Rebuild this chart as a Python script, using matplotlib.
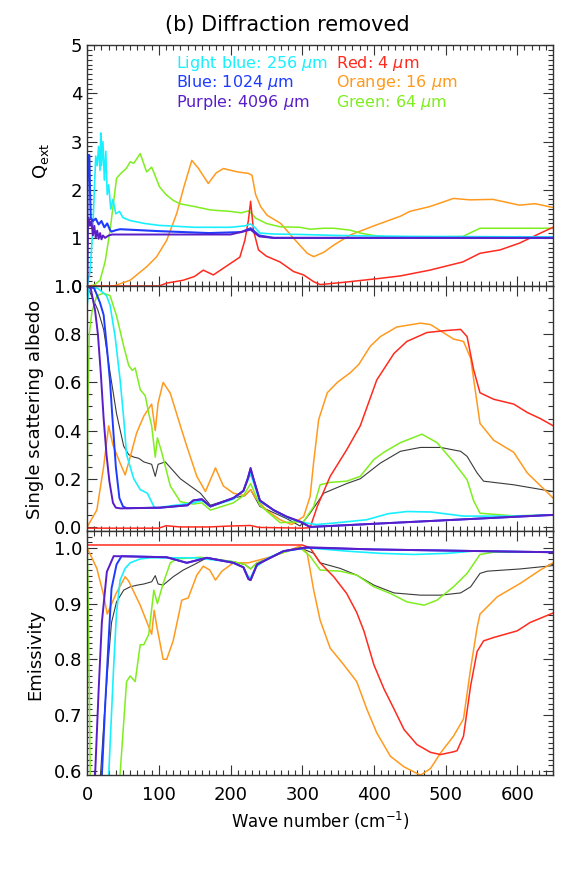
import numpy as np
import matplotlib.pyplot as plt
from matplotlib.ticker import MultipleLocator

# colours of the six grain sizes + the mean (black)
c_cyan = '#19f0ff'
c_blue = '#1e3cff'
c_purple = '#5a1ec8'
c_red = '#ff2a1e'
c_orange = '#ff9a1e'
c_green = '#7fee1e'
c_black = '#3a3a3a'

# ---- Q_ext panel ----
qext_red_x = [0, 100, 111, 134, 150, 162, 176, 195, 213, 220, 225, 228, 232, 239, 250, 269, 288, 302, 316, 325, 360, 409, 437, 478, 524, 548, 576, 603, 631, 650]
qext_red = [0, 0.0, 0.06, 0.12, 0.2, 0.33, 0.23, 0.42, 0.6, 0.95, 1.37, 1.76, 1.16, 0.75, 0.62, 0.5, 0.3, 0.23, 0.09, 0.03, 0.08, 0.16, 0.21, 0.33, 0.5, 0.68, 0.75, 0.89, 1.09, 1.22]

qext_orange_x = [0, 37, 60, 83, 97, 111, 125, 135, 146, 155, 169, 180, 190, 210, 225, 230, 235, 242, 251, 270, 288, 307, 316, 330, 344, 367, 400, 437, 450, 478, 511, 534, 566, 603, 625, 650]
qext_orange = [0, 0, 0.12, 0.4, 0.61, 0.95, 1.51, 2.06, 2.61, 2.45, 2.13, 2.35, 2.44, 2.37, 2.34, 2.3, 1.9, 1.65, 1.47, 1.3, 0.99, 0.68, 0.61, 0.7, 0.85, 1.06, 1.25, 1.45, 1.55, 1.65, 1.82, 1.79, 1.8, 1.68, 1.71, 1.63]

qext_green_x = [0, 10, 18, 25, 32, 41, 47, 55, 60, 65, 74, 83, 90, 101, 110, 120, 129, 150, 172, 200, 215, 225, 230, 235, 250, 269, 297, 311, 330, 344, 367, 381, 400, 428, 450, 480, 524, 548, 650]
qext_green = [0, 0.02, 0.12, 0.5, 1.16, 2.24, 2.34, 2.45, 2.58, 2.55, 2.75, 2.37, 2.47, 2.06, 1.9, 1.78, 1.71, 1.65, 1.58, 1.55, 1.52, 1.56, 1.5, 1.41, 1.3, 1.23, 1.22, 1.18, 1.2, 1.2, 1.16, 1.1, 1.05, 1.0, 1.02, 1.02, 1.03, 1.2, 1.2]

qext_cyan_x = [0, 4, 8, 10, 12, 14, 16, 18, 19, 20, 22, 24, 26, 28, 30, 33, 36, 40, 45, 50, 60, 80, 100, 150, 200, 220, 228, 235, 241, 260, 300, 350, 450, 650]
qext_cyan = [0, 0.3, 1.2, 2.0, 2.7, 2.5, 2.9, 2.4, 3.18, 2.5, 3.0, 2.2, 2.8, 1.9, 2.1, 1.6, 1.8, 1.5, 1.55, 1.42, 1.36, 1.3, 1.26, 1.22, 1.22, 1.25, 1.29, 1.2, 1.1, 1.08, 1.07, 1.05, 1.03, 1.02]

qext_blue_x = [0, 0.5, 1, 3, 4, 5, 8, 12, 16, 20, 24, 28, 32, 34, 40, 46, 100, 170, 215, 228, 240, 260, 650]
qext_blue = [0, 2.0, 2.72, 2.72, 2.0, 1.42, 1.35, 1.4, 1.28, 1.35, 1.22, 1.3, 1.16, 1.13, 1.16, 1.18, 1.14, 1.1, 1.12, 1.2, 1.05, 1.0, 1.0]

qext_purple_x = [0, 1, 2, 4, 6, 8, 10, 12, 14, 16, 18, 20, 22, 25, 30, 35, 100, 200, 228, 240, 260, 650]
qext_purple = [0, 1.2, 1.42, 1.25, 1.35, 1.05, 1.25, 1.0, 1.15, 0.98, 1.1, 0.97, 1.05, 1.0, 1.05, 1.07, 1.07, 1.07, 1.17, 1.03, 1.0, 1.0]

# ---- single scattering albedo panel ----
alb_purple_x = [0, 5, 11, 15, 19, 23, 27, 31, 36, 40, 47, 102, 140, 148, 160, 172, 190, 204, 218, 224, 228, 232, 241, 260, 278, 297, 311, 650]
alb_purple = [1.0, 0.99, 0.9, 0.8, 0.64, 0.45, 0.3, 0.19, 0.1, 0.08, 0.077, 0.08, 0.09, 0.11, 0.115, 0.085, 0.105, 0.12, 0.15, 0.2, 0.245, 0.2, 0.11, 0.07, 0.043, 0.022, 0.0, 0.05]

alb_blue_x = [0, 10, 18, 23, 28, 32, 36, 40, 45, 50, 55, 102, 140, 148, 160, 172, 190, 204, 218, 224, 228, 232, 241, 260, 278, 297, 311, 650]
alb_blue = [1.0, 0.99, 0.93, 0.88, 0.73, 0.6, 0.42, 0.25, 0.12, 0.085, 0.078, 0.08, 0.09, 0.11, 0.115, 0.085, 0.105, 0.12, 0.15, 0.2, 0.24, 0.2, 0.11, 0.07, 0.043, 0.022, 0.0, 0.05]

alb_cyan_x = [0, 3, 15, 27, 32, 39, 46, 51, 55, 65, 74, 84, 93, 96, 110, 148, 160, 172, 204, 218, 228, 241, 260, 278, 297, 320, 340, 390, 420, 446, 480, 525, 595, 650]
alb_cyan = [0.92, 1.0, 0.99, 0.96, 0.92, 0.79, 0.61, 0.45, 0.3, 0.2, 0.155, 0.14, 0.085, 0.078, 0.085, 0.1, 0.11, 0.085, 0.115, 0.15, 0.22, 0.105, 0.07, 0.04, 0.02, 0.01, 0.015, 0.03, 0.055, 0.064, 0.062, 0.045, 0.045, 0.05]

alb_green_x = [0, 1, 3, 6.5, 13.5, 23, 32, 41, 51, 58, 63, 67, 74, 81, 86, 90, 95, 98, 104, 116, 130, 148, 160, 172, 204, 218, 228, 241, 269, 302, 316, 325, 339, 362, 381, 400, 414, 437, 467, 488, 511, 530, 539, 548, 595, 650]
alb_green = [0.06, 0.5, 0.8, 0.89, 0.96, 0.97, 0.96, 0.876, 0.75, 0.67, 0.65, 0.66, 0.57, 0.545, 0.47, 0.42, 0.29, 0.37, 0.31, 0.17, 0.105, 0.095, 0.1, 0.07, 0.1, 0.13, 0.18, 0.09, 0.018, 0.022, 0.085, 0.175, 0.185, 0.19, 0.21, 0.28, 0.31, 0.35, 0.385, 0.35, 0.27, 0.196, 0.11, 0.057, 0.046, 0.05]

alb_orange_x = [0, 13.5, 23, 30, 36, 46, 53, 60, 69, 79, 90, 95, 99, 106, 116, 130, 139, 153, 165, 179, 190, 204, 220, 228, 235, 250, 269, 285, 302, 311, 316, 323, 335, 349, 367, 379, 395, 409, 432, 465, 479, 511, 525, 535, 548, 567, 595, 614, 650]
alb_orange = [0.0, 0.07, 0.25, 0.42, 0.34, 0.265, 0.216, 0.29, 0.39, 0.46, 0.51, 0.4, 0.515, 0.6, 0.555, 0.42, 0.335, 0.21, 0.147, 0.245, 0.17, 0.14, 0.13, 0.155, 0.12, 0.07, 0.03, 0.01, 0.043, 0.126, 0.27, 0.446, 0.557, 0.6, 0.64, 0.675, 0.75, 0.79, 0.83, 0.846, 0.84, 0.78, 0.77, 0.7, 0.43, 0.36, 0.31, 0.224, 0.12]

alb_red_x = [0, 100, 110, 130, 170, 200, 228, 240, 300, 311, 321, 339, 362, 381, 404, 428, 446, 474, 500, 521, 530, 539, 548, 567, 595, 614, 632, 650]
alb_red = [-0.005, -0.005, 0.005, 0.0, 0.0, 0.004, 0.006, -0.002, -0.005, -0.003, 0.085, 0.21, 0.32, 0.42, 0.61, 0.72, 0.77, 0.807, 0.815, 0.82, 0.79, 0.654, 0.557, 0.53, 0.51, 0.475, 0.45, 0.42]

alb_black_x = [0, 6, 15, 23, 32, 41, 51, 58, 65, 72, 79, 90, 95, 99, 109, 130, 158, 172, 204, 220, 228, 241, 278, 297, 311, 330, 362, 381, 409, 437, 465, 493, 521, 530, 544, 553, 595, 650]
alb_black = [1.0, 0.96, 0.9, 0.82, 0.64, 0.47, 0.335, 0.3, 0.29, 0.285, 0.27, 0.26, 0.21, 0.26, 0.27, 0.2, 0.14, 0.09, 0.12, 0.13, 0.155, 0.085, 0.035, 0.004, 0.057, 0.14, 0.18, 0.2, 0.265, 0.314, 0.33, 0.33, 0.314, 0.293, 0.224, 0.19, 0.175, 0.147]

# ---- emissivity panel ----
em_red_x = [0, 300, 311, 325, 344, 362, 376, 386, 400, 414, 428, 442, 460, 479, 493, 511, 516, 525, 535, 544, 553, 567, 600, 618, 650]
em_red = [1.005, 1.005, 1.0, 0.973, 0.948, 0.918, 0.884, 0.851, 0.79, 0.747, 0.711, 0.674, 0.647, 0.633, 0.629, 0.634, 0.636, 0.662, 0.753, 0.814, 0.833, 0.839, 0.851, 0.866, 0.883]

em_orange_x = [0, 13.5, 23, 28, 40, 53, 58, 74, 90, 93.5, 97, 106, 111, 120, 132, 141, 153, 162, 171, 179, 188, 204, 225, 260, 297, 307, 316, 325, 339, 358, 376, 390, 404, 423, 442, 465, 479, 493, 511, 525, 535, 544, 548, 572, 604, 632, 650]
em_orange = [1.0, 0.963, 0.915, 0.881, 0.917, 0.948, 0.94, 0.897, 0.845, 0.888, 0.86, 0.8, 0.8, 0.833, 0.906, 0.91, 0.951, 0.967, 0.96, 0.942, 0.958, 0.973, 0.973, 0.985, 1.003, 0.99, 0.924, 0.87, 0.82, 0.79, 0.76, 0.711, 0.668, 0.626, 0.607, 0.592, 0.604, 0.632, 0.662, 0.693, 0.784, 0.857, 0.881, 0.912, 0.936, 0.96, 0.973]

em_green_x = [0, 1, 3, 5, 44, 46, 55, 60, 67, 74, 79, 86, 93, 98, 106, 116, 125, 158, 176, 204, 220, 228, 236, 270, 297, 311, 325, 353, 376, 400, 423, 446, 470, 488, 511, 530, 548, 567, 650]
em_green = [0.997, 0.95, 0.75, 0.5, 0.5, 0.595, 0.76, 0.77, 0.76, 0.826, 0.826, 0.845, 0.924, 0.9, 0.936, 0.973, 0.98, 0.983, 0.98, 0.975, 0.97, 0.962, 0.972, 0.99, 1.0, 0.985, 0.96, 0.958, 0.951, 0.93, 0.918, 0.903, 0.897, 0.906, 0.93, 0.954, 0.988, 0.992, 0.992]

em_cyan_x = [0, 28, 30, 32, 37, 41, 46, 53, 60, 74, 88, 150, 200, 218, 225, 228, 235, 250, 274, 307, 362, 409, 456, 502, 539, 650]
em_cyan = [0.3, 0.5, 0.59, 0.647, 0.787, 0.884, 0.942, 0.963, 0.973, 0.98, 0.982, 0.982, 0.975, 0.965, 0.948, 0.946, 0.965, 0.98, 0.994, 1.0, 0.994, 0.99, 0.988, 0.99, 0.994, 0.992]

em_blue_x = [0, 18, 20.5, 25, 30, 34, 41, 48, 111, 139, 167, 204, 218, 225, 228, 237, 274, 306, 400, 500, 650]
em_blue = [0.3, 0.5, 0.59, 0.714, 0.836, 0.927, 0.97, 0.985, 0.983, 0.973, 0.982, 0.973, 0.965, 0.944, 0.942, 0.97, 0.994, 1.0, 0.997, 0.995, 0.992]

em_purple_x = [0, 9, 11, 16, 20.5, 27.5, 37, 111, 139, 167, 204, 218, 225, 228, 237, 274, 306, 400, 500, 650]
em_purple = [0.3, 0.5, 0.59, 0.744, 0.866, 0.957, 0.985, 0.983, 0.973, 0.982, 0.973, 0.965, 0.944, 0.942, 0.97, 0.994, 1.001, 0.997, 0.995, 0.992]

em_black_x = [0, 16, 18.5, 24, 30, 34, 41, 51, 60, 70, 79, 90, 95, 99, 106, 120, 134, 148, 167, 204, 220, 228, 236, 274, 297, 316, 325, 353, 376, 400, 428, 465, 493, 521, 535, 548, 558, 604, 650]
em_black = [0.3, 0.5, 0.59, 0.7, 0.805, 0.866, 0.903, 0.924, 0.93, 0.933, 0.935, 0.939, 0.95, 0.935, 0.933, 0.948, 0.96, 0.969, 0.982, 0.975, 0.97, 0.962, 0.972, 0.994, 1.0, 0.99, 0.973, 0.963, 0.951, 0.933, 0.919, 0.915, 0.915, 0.919, 0.93, 0.954, 0.958, 0.962, 0.968]

legend_left = ['Light blue: 256 $\\mu$m', 'Blue: 1024 $\\mu$m', 'Purple: 4096 $\\mu$m']
legend_right = ['Red: 4 $\\mu$m', 'Orange: 16 $\\mu$m', 'Green: 64 $\\mu$m']

plt.rcParams['font.family'] = 'DejaVu Sans'
plt.rcParams['mathtext.fontset'] = 'dejavusans'

fig = plt.figure(figsize=(5.81, 8.72), dpi=100)
left, width = 0.150, 0.802
ax1 = fig.add_axes([left, 0.672, width, 0.276])
ax2 = fig.add_axes([left, 0.391, width, 0.281])
ax3 = fig.add_axes([left, 0.111, width, 0.280])


def style(ax, ylim, major, minor, fmt):
    ax.set_xlim(0, 650)
    ax.set_ylim(*ylim)
    ax.xaxis.set_major_locator(MultipleLocator(100))
    ax.xaxis.set_minor_locator(MultipleLocator(10))
    ax.yaxis.set_major_locator(MultipleLocator(major))
    ax.yaxis.set_minor_locator(MultipleLocator(minor))
    ax.tick_params(which='both', direction='in', top=True, right=True,
                   labelsize=13, color='#333333', width=0.8)
    ax.tick_params(which='major', length=7)
    ax.tick_params(which='minor', length=3.5)
    ax.yaxis.set_major_formatter(fmt)
    for s in ax.spines.values():
        s.set_color('#333333')
        s.set_linewidth(1.0)


# top panel
ax1.plot(qext_orange_x, qext_orange, color=c_orange, lw=1.1)
ax1.plot(qext_green_x, qext_green, color=c_green, lw=1.1)
ax1.plot(qext_red_x, qext_red, color=c_red, lw=1.1)
ax1.plot(qext_cyan_x, qext_cyan, color=c_cyan, lw=1.2)
ax1.plot(qext_blue_x, qext_blue, color=c_blue, lw=1.5)
ax1.plot(qext_purple_x, qext_purple, color=c_purple, lw=1.4)
style(ax1, (0, 5), 1, 0.1, '{x:.0f}')
ax1.tick_params(labelbottom=False)
ax1.set_yticks([0, 1, 2, 3, 4, 5])

for i, t in enumerate(legend_left):
    ax1.text(0.19, 0.905 - i * 0.08, t, transform=ax1.transAxes,
             color=[c_cyan, c_blue, c_purple][i], fontsize=11.5)
for i, t in enumerate(legend_right):
    ax1.text(0.533, 0.905 - i * 0.08, t, transform=ax1.transAxes,
             color=[c_red, c_orange, c_green][i], fontsize=11.5)

# middle panel
ax2.plot(alb_black_x, alb_black, color=c_black, lw=0.8)
ax2.plot(alb_orange_x, alb_orange, color=c_orange, lw=1.1)
ax2.plot(alb_green_x, alb_green, color=c_green, lw=1.1)
ax2.plot(alb_red_x, alb_red, color=c_red, lw=1.1)
ax2.plot(alb_cyan_x, alb_cyan, color=c_cyan, lw=1.2)
ax2.plot(alb_blue_x, alb_blue, color=c_blue, lw=1.4)
ax2.plot(alb_purple_x, alb_purple, color=c_purple, lw=1.4)
style(ax2, (-0.017, 1.0), 0.2, 0.05, '{x:.1f}')
ax2.tick_params(labelbottom=False)

# bottom panel
ax3.plot(em_black_x, em_black, color=c_black, lw=0.8)
ax3.plot(em_orange_x, em_orange, color=c_orange, lw=1.1)
ax3.plot(em_green_x, em_green, color=c_green, lw=1.1)
ax3.plot(em_red_x, em_red, color=c_red, lw=1.1)
ax3.plot(em_cyan_x, em_cyan, color=c_cyan, lw=1.2)
ax3.plot(em_blue_x, em_blue, color=c_blue, lw=1.4)
ax3.plot(em_purple_x, em_purple, color=c_purple, lw=1.4)
style(ax3, (0.592, 1.03), 0.1, 0.01, '{x:.1f}')
ax3.tick_params(axis='x', pad=8)
ax3.set_xlabel('Wave number (cm$^{-1}$)', fontsize=12, labelpad=4)

fig.text(0.495, 0.971, '(b) Diffraction removed', ha='center', va='center', fontsize=15)
fig.text(0.07, 0.815, 'Q$_{\\rm ext}$', rotation=90, ha='center', va='center', fontsize=13)
fig.text(0.06, 0.53, 'Single scattering albedo', rotation=90, ha='center', va='center', fontsize=13)
fig.text(0.06, 0.25, 'Emissivity', rotation=90, ha='center', va='center', fontsize=13)

fig.savefig('out.png', dpi=100)
